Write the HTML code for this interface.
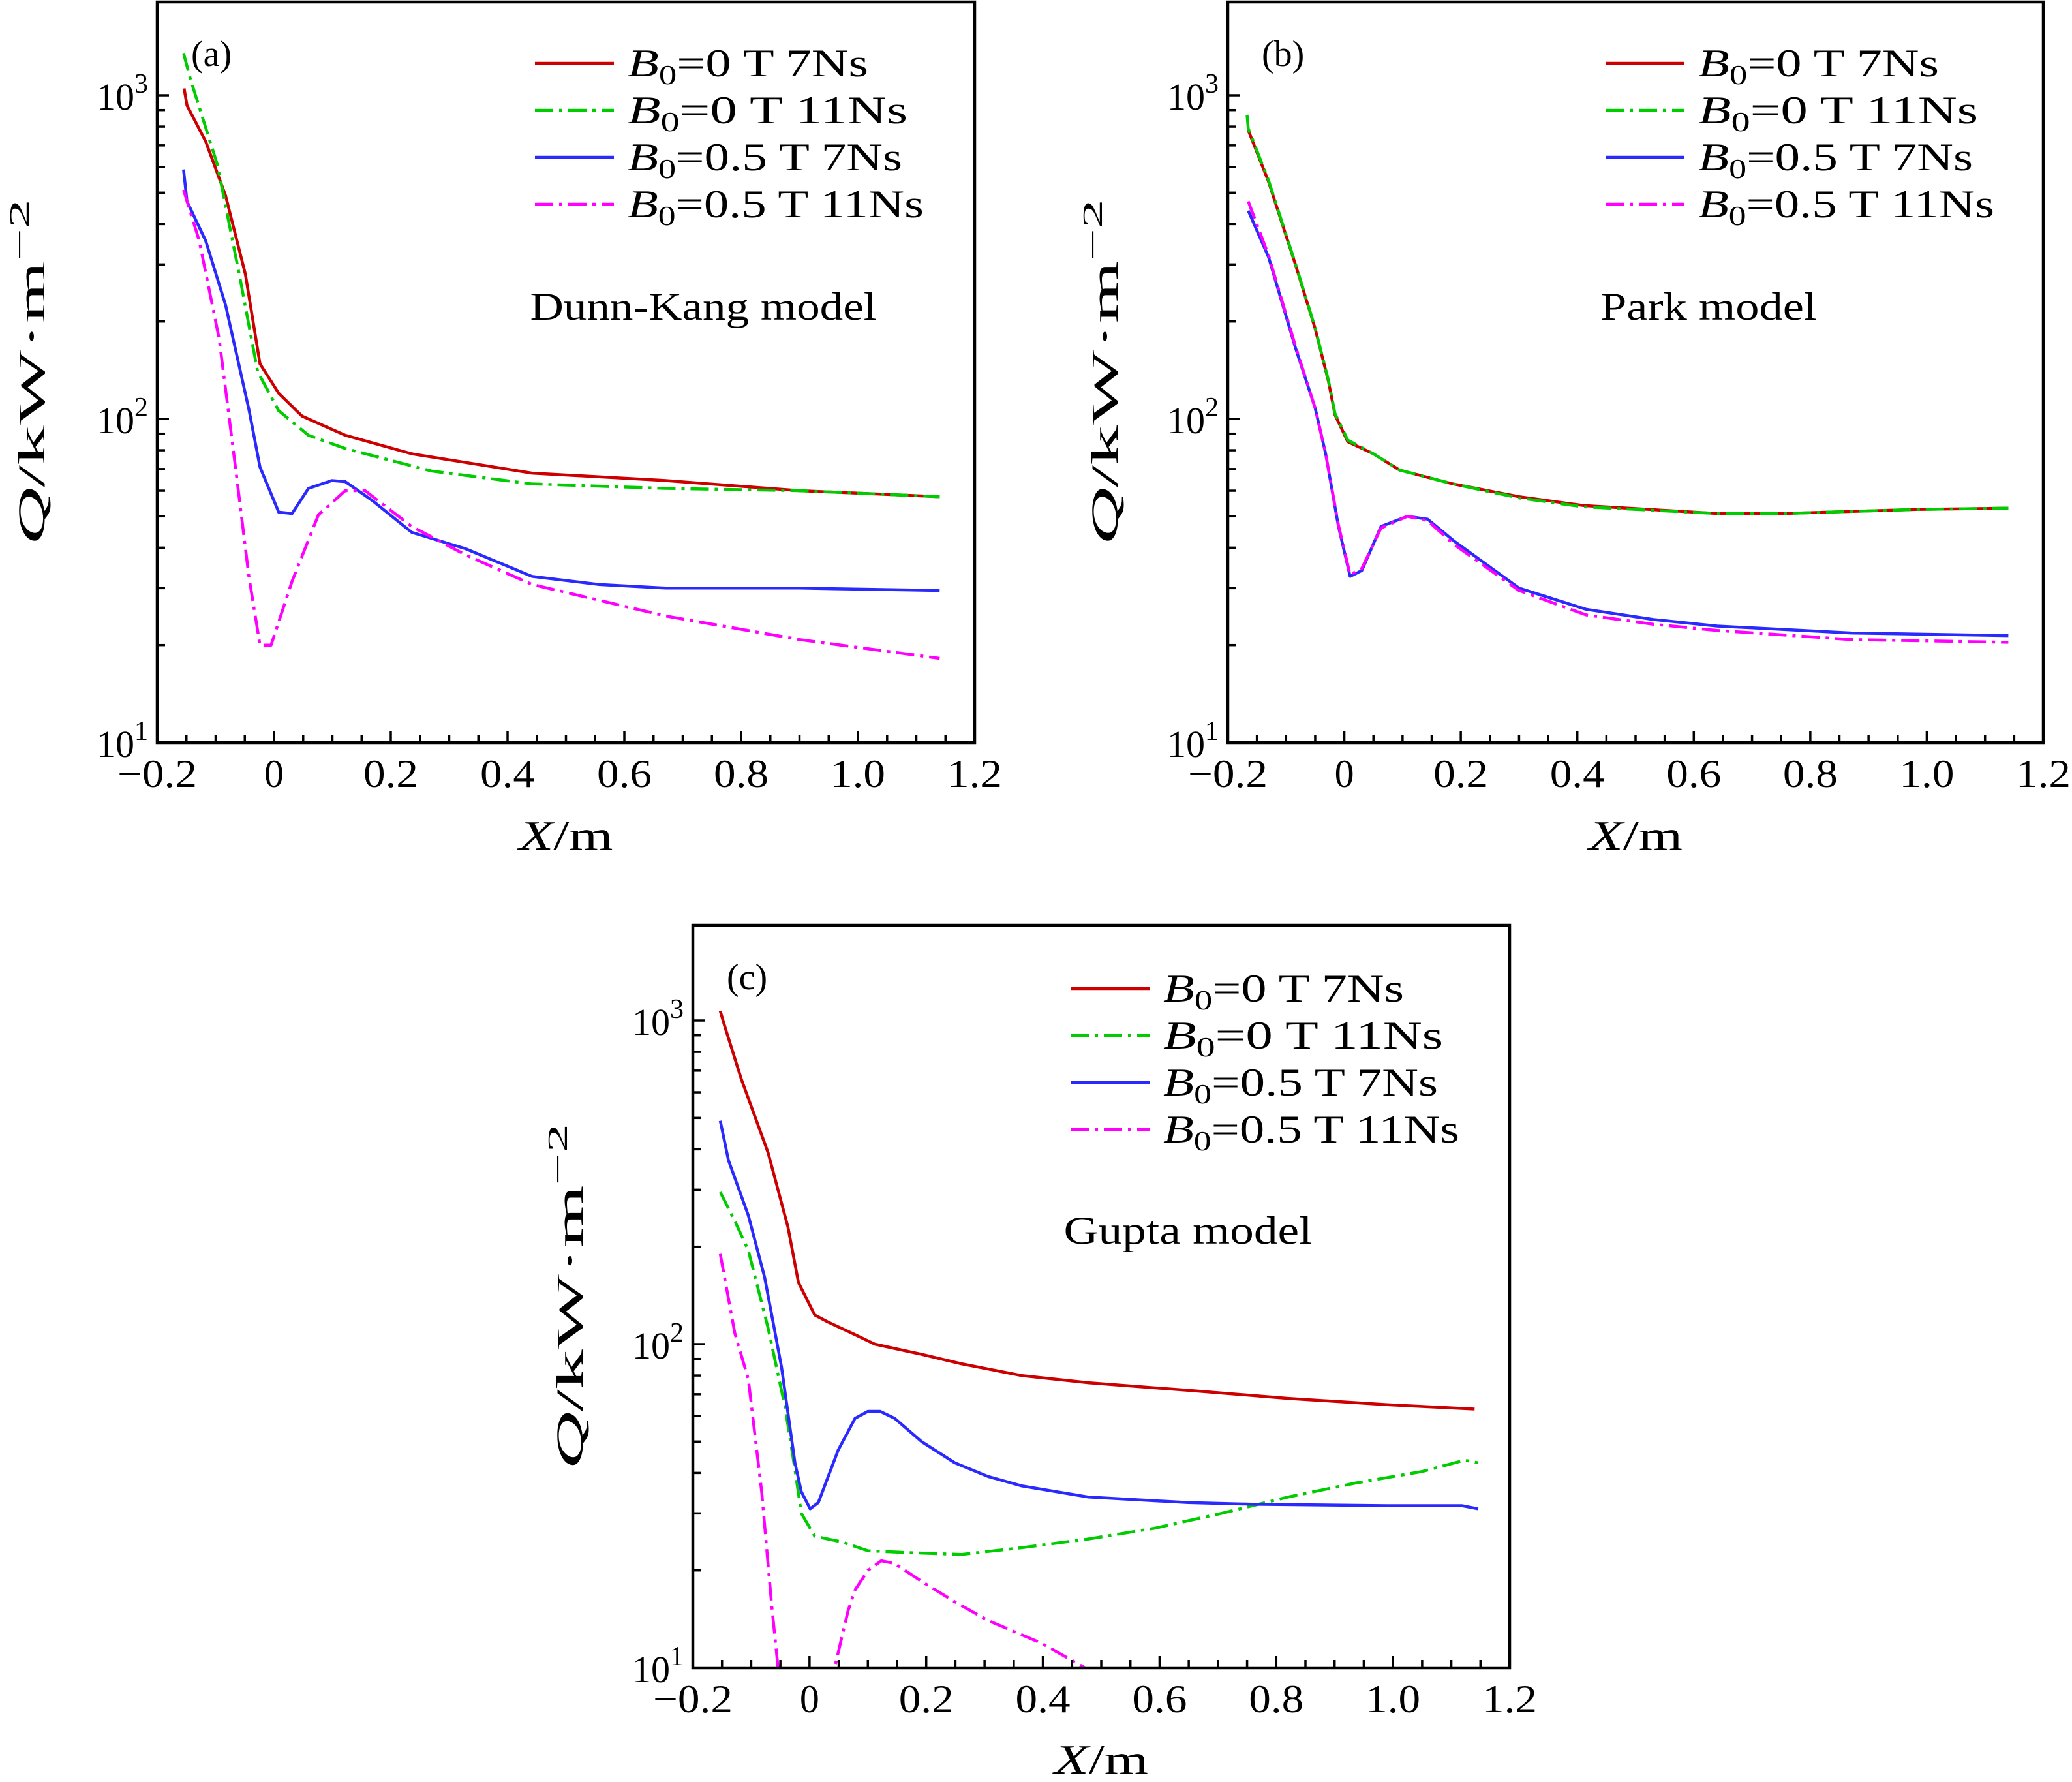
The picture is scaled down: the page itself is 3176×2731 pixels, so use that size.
<!DOCTYPE html>
<html><head><meta charset="utf-8"><style>
html,body{margin:0;padding:0;background:#fff}
svg{display:block}
text{font-family:"Liberation Serif",serif;fill:#000}
</style></head><body>
<svg id="fig" width="3176" height="2731" viewBox="0 0 3176 2731" xmlns="http://www.w3.org/2000/svg"></svg>
<script>
// ---- Panel (a) Dunn-Kang ----
const aRedX=[-0.154,-0.149,-0.117,-0.083,-0.049,-0.024,0.008,0.048,0.122,0.236,0.442,0.671,0.9,1.14];
const aRedQ=[1050,930,720,490,280,148,120,102,89,78,68,64.5,60,57.5];
const aGreenX=[-0.155,-0.143,-0.097,-0.057,-0.028,0.008,0.059,0.122,0.27,0.44,0.67,0.9,1.14];
const aGreenQ=[1350,1120,610,265,140,106,89,81,69,63,61,60,57.5];
const aBlueX=[-0.155,-0.149,-0.117,-0.083,-0.043,-0.024,0.008,0.031,0.059,0.099,0.122,0.168,0.236,0.328,0.442,0.556,0.671,0.9,1.14];
const aBlueQ=[590,470,355,225,107,71,51.5,51,61,64.5,64,56,44.6,39.7,32.6,30.8,30,30,29.5];
const aMagX=[-0.155,-0.128,-0.094,-0.066,-0.043,-0.024,-0.005,0.031,0.076,0.122,0.156,0.236,0.328,0.442,0.671,0.9,1.14];
const aMagQ=[510,355,177,71,32.6,20,20,31.5,50.5,60,60,46.5,38,30.8,24.6,20.8,18.2];
// ---- Panel (b) Park ----
const bRedX=[-0.165,-0.13,-0.084,-0.05,-0.027,-0.016,0.006,0.05,0.095,0.186,0.3,0.41,0.64,0.755,0.98,1.14];
const bRedQ=[780,540,300,190,130,103,85,78,69.5,63,57.5,54,51,51,52.5,53];
const bGreenX=[-0.167,-0.165,-0.13,-0.084,-0.05,-0.027,-0.016,0.006,0.05,0.095,0.186,0.3,0.41,0.64,0.755,0.98,1.14];
const bGreenQ=[870,790,545,302,191,131,104,86,78,69.5,63,57,53.5,51,51,52.5,53];
const bBlueX=[-0.165,-0.13,-0.084,-0.05,-0.032,-0.01,0.01,0.03,0.063,0.108,0.143,0.188,0.3,0.415,0.53,0.64,0.87,1.14];
const bBlueQ=[440,316,166,108,78,46.5,32.6,34,46.5,50,49,42,30,25.8,24,22.9,21.8,21.4];
const bMagX=[-0.165,-0.13,-0.084,-0.05,-0.032,-0.01,0.01,0.03,0.063,0.108,0.143,0.188,0.3,0.415,0.53,0.64,0.87,1.14];
const bMagQ=[470,320,168,108,78,47,33,34.5,46,50,48.5,41,29.5,24.8,23.2,22.2,20.8,20.4];
// ---- Panel (c) Gupta ----
const cRedX=[-0.153,-0.145,-0.117,-0.071,-0.037,-0.019,0.009,0.032,0.078,0.112,0.192,0.26,0.363,0.478,0.649,0.82,0.99,1.14];
const cRedQ=[1070,955,660,390,230,155,123,117,107,100,93,87,80,76,72,68,65,63];
const cGreenX=[-0.153,-0.128,-0.105,-0.071,-0.042,-0.025,-0.014,0.009,0.055,0.1,0.169,0.26,0.363,0.478,0.592,0.706,0.82,0.935,1.05,1.123,1.146];
const cGreenQ=[295,240,195,112,64,41,30,25.5,24.5,23,22.7,22.4,23.5,25,27,30,33.7,37.2,40.4,43.8,43];
const cBlueX=[-0.153,-0.139,-0.105,-0.077,-0.048,-0.025,-0.014,0.001,0.015,0.032,0.049,0.078,0.1,0.121,0.146,0.192,0.249,0.306,0.363,0.478,0.649,0.763,0.99,1.118,1.146];
const cBlueQ=[490,370,250,161,85,43,35,31,32.4,39,47,59,62,62,59,50,43,39,36.5,33.7,32.4,32,31.7,31.7,31];
const cMagX=[-0.153,-0.128,-0.105,-0.082,-0.065,-0.054,-0.04,0.03,0.043,0.066,0.078,0.1,0.123,0.146,0.192,0.249,0.306,0.398,0.472,0.535];
const cMagQ=[190,108,78,35,15.7,10,7,7.5,10,15,17.4,20,21.4,21,18.5,16,14,11.9,10,8.6];

const xTicks=[-0.2,0,0.2,0.4,0.6,0.8,1.0,1.2];
const xTickLabels=["\u22120.2","0","0.2","0.4","0.6","0.8","1.0","1.2"];
const yTickExp=[1,2,3];

const NS="http://www.w3.org/2000/svg";
const svg=document.getElementById('fig');
function mk(tag,attrs,parent){const e=document.createElementNS(NS,tag);for(const k in attrs)e.setAttribute(k,attrs[k]);(parent||svg).appendChild(e);return e;}

const COLORS={red:"#cc0000",green:"#00cc00",blue:"#2a2aff",mag:"#ff00ff"};
const DASHDOT="28 9 5 9";
const LEG_LEN=[369,429,421,454];

function panel(id,L,R,T,B,label,model,modelX,modelY,modelLen,legX,legY,series,ylabX,xlabY){
  const g=mk('g',{});
  
  
  const W=R-L, dec=496;
  const xs=x=>L+(x+0.2)/1.4*W;
  const ys=q=>B-(Math.log10(q)-1)*dec;
  const topLog=1+(B-T)/dec;
  const cp=mk('clipPath',{id:'clip-'+id},g);
  mk('rect',{x:L,y:T,width:W,height:B-T},cp);
  series.forEach(s=>{
    let d='';
    for(let i=0;i<s.x.length;i++){d+=(i?'L':'M')+xs(s.x[i]).toFixed(1)+' '+ys(s.q[i]).toFixed(1);}
    const p=mk('path',{d:d,fill:'none',stroke:s.color,'stroke-width':4.5,'stroke-linejoin':'round','clip-path':'url(#clip-'+id+')'},g);
    if(s.dash)p.setAttribute('stroke-dasharray',DASHDOT);
    
    
  });
  for(let i=1;i<28;i++){
    const x=-0.2+i*0.05;
    const major=(i%4===0);
    const px=xs(x);
    const t=mk('line',{x1:px,x2:px,y1:B,y2:B-(major?18:12),stroke:'#000','stroke-width':3.5},g);
    
    
  }
  xTicks.forEach((v,i)=>{
    const t=mk('text',{x:xs(v),y:B+68,'font-size':60,'text-anchor':'middle'},g);
    t.textContent=xTickLabels[i];
    if(i===0){t.setAttribute('textLength',122);t.setAttribute('lengthAdjust','spacingAndGlyphs');}
    else if(i!==1){t.setAttribute('textLength',84);t.setAttribute('lengthAdjust','spacingAndGlyphs');}
    
    
  });
  for(let e=1;e<4;e++){
    for(let m=1;m<10;m++){
      const lg=e+Math.log10(m);
      if(lg>topLog||(e===1&&m===1))continue;
      const py=B-(lg-1)*dec;
      const t=mk('line',{x1:L,x2:L+(m===1?18:12),y1:py,y2:py,stroke:'#000','stroke-width':3.5},g);
      
      
    }
  }
  yTickExp.forEach(e=>{
    const py=B-(e-1)*dec;
    const t=mk('text',{x:L-14,y:py+22,'font-size':58,'text-anchor':'end'},g);
    t.textContent='10';
    const s=mk('tspan',{'font-size':42,dy:-26},t);
    s.textContent=String(e);
    
    
  });
  const fr=mk('rect',{x:L,y:T,width:W,height:B-T,fill:'none',stroke:'#000','stroke-width':4.5},g);
  
  
  const pl=mk('text',{x:L+52,y:T+98,'font-size':56},g);
  pl.textContent=label;
  
  
  const mt=mk('text',{x:modelX,y:modelY,'font-size':60,'text-anchor':'middle',textLength:modelLen,lengthAdjust:'spacingAndGlyphs'},g);
  mt.textContent=model;
  
  
  series.forEach((s,i)=>{
    const cy=legY+i*72;
    const ln=mk('line',{x1:legX,x2:legX+121,y1:cy,y2:cy,stroke:s.color,'stroke-width':4.5},g);
    if(s.dash)ln.setAttribute('stroke-dasharray',DASHDOT);
    
    
    const t=mk('text',{x:legX+142,y:cy+20,'font-size':60,textLength:LEG_LEN[i],lengthAdjust:'spacingAndGlyphs'},g);
    t.innerHTML='<tspan font-style="italic">B</tspan><tspan font-size="42" dy="12">0</tspan><tspan dy="-12">=</tspan><tspan>'+s.b+' T '+s.ns+'</tspan>';
    
    
  });
  const yl=mk('text',{x:0,y:0,'font-size':58,'text-anchor':'middle',transform:'translate('+(ylabX)+','+((T+B)/2)+') rotate(-90)',textLength:530,lengthAdjust:'spacingAndGlyphs'},g);
  yl.innerHTML='<tspan font-style="italic">Q</tspan>/kW·m<tspan font-size="42" dy="-24">\u22122</tspan>';
  
  
  const xl=mk('text',{x:(L+R)/2,y:xlabY,'font-size':64,'text-anchor':'middle',textLength:144,lengthAdjust:'spacingAndGlyphs'},g);
  xl.innerHTML='<tspan font-style="italic">X</tspan>/m';
  
  
}

panel('a',241,1494,3,1138,'(a)','Dunn-Kang model',1078,490,531,820,97,[
 {key:'b0-7ns',x:aRedX,q:aRedQ,color:COLORS.red,dash:false,b:'0',ns:'7Ns'},
 {key:'b0-11ns',x:aGreenX,q:aGreenQ,color:COLORS.green,dash:true,b:'0',ns:'11Ns'},
 {key:'b05-7ns',x:aBlueX,q:aBlueQ,color:COLORS.blue,dash:false,b:'0.5',ns:'7Ns'},
 {key:'b05-11ns',x:aMagX,q:aMagQ,color:COLORS.mag,dash:true,b:'0.5',ns:'11Ns'}],68,1302);
panel('b',1882,3132,3,1138,'(b)','Park model',2619,490,332,2461,97,[
 {key:'b0-7ns',x:bRedX,q:bRedQ,color:COLORS.red,dash:false,b:'0',ns:'7Ns'},
 {key:'b0-11ns',x:bGreenX,q:bGreenQ,color:COLORS.green,dash:true,b:'0',ns:'11Ns'},
 {key:'b05-7ns',x:bBlueX,q:bBlueQ,color:COLORS.blue,dash:false,b:'0.5',ns:'7Ns'},
 {key:'b05-11ns',x:bMagX,q:bMagQ,color:COLORS.mag,dash:true,b:'0.5',ns:'11Ns'}],1713,1302);
panel('c',1062,2314,1418,2556,'(c)','Gupta model',1821,1906,381,1641,1515,[
 {key:'b0-7ns',x:cRedX,q:cRedQ,color:COLORS.red,dash:false,b:'0',ns:'7Ns'},
 {key:'b0-11ns',x:cGreenX,q:cGreenQ,color:COLORS.green,dash:true,b:'0',ns:'11Ns'},
 {key:'b05-7ns',x:cBlueX,q:cBlueQ,color:COLORS.blue,dash:false,b:'0.5',ns:'7Ns'},
 {key:'b05-11ns',x:cMagX,q:cMagQ,color:COLORS.mag,dash:true,b:'0.5',ns:'11Ns'}],893,2718);
</script>
</body></html>
